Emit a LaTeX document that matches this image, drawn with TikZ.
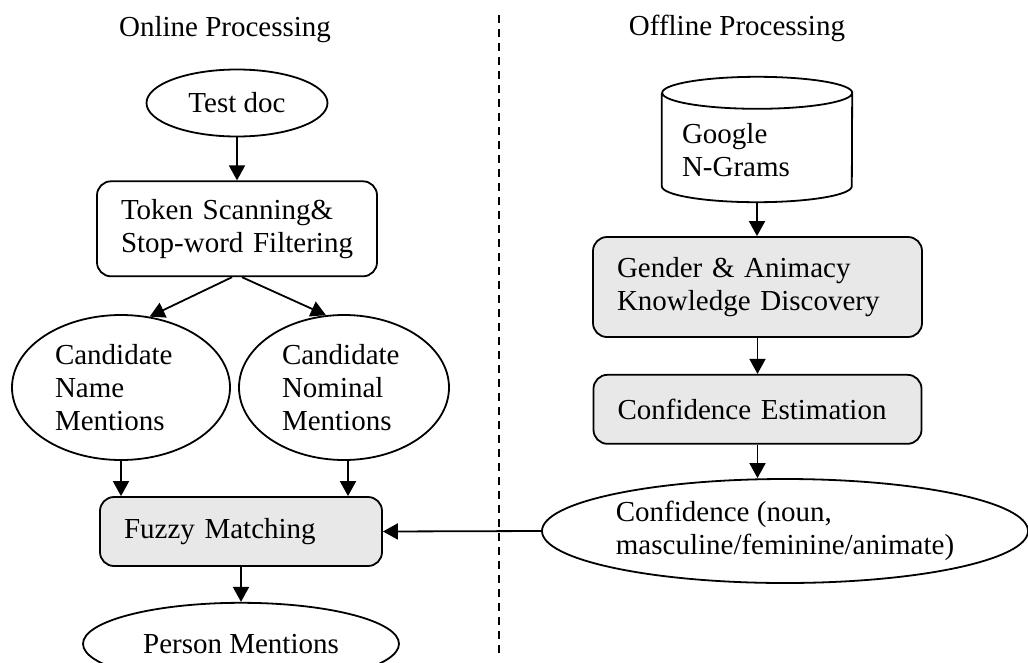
\documentclass[tikz,border=0pt]{standalone}
\usepackage{fontspec}
\setmainfont{Liberation Serif}
\usetikzlibrary{positioning}
\usetikzlibrary{shapes.geometric}
\usetikzlibrary{arrows.meta}
\definecolor{shade}{RGB}{232,232,232}

\begin{document}
\begin{tikzpicture}[
        x = 1pt, y = -1pt,
        every node/.style = {font = \fontsize{29}{33}\selectfont},
        box/.style = {
                draw,
                rectangle,
                rounded corners = 14pt,
                line width = 1.8pt,
                fill = #1,
                align = left,
                inner xsep = 24pt,
                inner ysep = 0pt
            },
            box/.default = white,
        oval/.style = {
                draw,
                ellipse,
                line width = 1.8pt,
                inner sep = 0pt,
                align = left
            },
        store/.style = {
                rectangle,
                inner sep = 0pt,
                align = left
            },
        title/.style = {inner sep = 0pt},
        flow/.style = {-{Triangle[length = 15pt, width = 16pt]}, line width = 1.8pt},
        node distance = {35pt}
    ]
        \useasboundingbox (0, 0) rectangle (1028, 662);

        % online side
        \node[title] (online) at (225, 30) {Online Processing};
        \node[oval, minimum width = 181pt, minimum height = 67pt] (testdoc) at (237, 103) {Test doc};
        \node[box, text width = 232pt, minimum height = 95pt, below = 43pt of testdoc] (token) {Token Scanning\&\\Stop-word Filtering};
        \node[oval, text width = 132pt, minimum width = 218pt, minimum height = 145pt] (cname) at (121, 387.5) {Candidate\\Name\\Mentions};
        \node[oval, text width = 124pt, minimum width = 210pt, minimum height = 145pt] (cnom) at (344, 387.5) {Candidate\\Nominal\\Mentions};
        \node[box = shade, text width = 234pt, minimum height = 69pt] (fuzzy) at (241, 531.5) {Fuzzy Matching};
        \node[oval, minimum width = 316pt, minimum height = 82pt, below = 35pt of fuzzy] (person) {Person Mentions};

        % offline side
        \node[title] (offline) at (737, 28) {Offline Processing};
        \node[store, text width = 150pt, text height = 41pt, text depth = 34pt,
              minimum width = 190pt, minimum height = 125pt] (ngram) at (757, 139.5) {Google\\N-Grams};
        % cylinder outline round the n-gram store
        \draw[line width = 1.8pt]
            ([yshift = -16pt]ngram.north west) -- ([yshift = 16pt]ngram.south west)
            arc[start angle = 180, end angle = 360, x radius = 95pt, y radius = 16pt]
            -- ([yshift = -16pt]ngram.north east)
            arc[start angle = 0, end angle = 360, x radius = 95pt, y radius = 16pt];
        \node[box = shade, text width = 281pt, minimum height = 100pt] (gender) at (757.5, 287) {Gender \& Animacy\\Knowledge Discovery};
        \node[box = shade, text width = 280pt, minimum height = 69pt, below = 36pt of gender] (confest) {Confidence Estimation};
        \node[oval, minimum width = 486pt, minimum height = 104pt] (confval) at (785, 531) {Confidence (noun,\\masculine/feminine/animate)};

        % divider
        \coordinate (divtop) at (499, 15);
        \coordinate (divbot) at (499, 655);
        \draw[dashed, dash pattern = on 8pt off 6pt, line width = 1.5pt] (divtop) -- (divbot);

        \draw[flow] (testdoc) -- (token);
        \draw[flow] ([xshift = -5pt]token.south) -- (cname.68);
        \draw[flow] ([xshift = 5pt]token.south) -- (cnom.104);
        \draw[flow] (cname.south) -- (cname.south |- fuzzy.north);
        \draw[flow] ([xshift = 4pt]cnom.south) -- ([xshift = 4pt]cnom.south |- fuzzy.north);
        \draw[flow] (fuzzy) -- (person);

        \draw[flow] (ngram.south) -- (ngram.south |- gender.north);
        \draw[flow] (gender) -- (confest);
        \draw[flow] (confest.south) -- (confest.south |- confval.north);
        \draw[flow] (confval.west) -- (fuzzy.east);

    \end{tikzpicture}
\end{document}
